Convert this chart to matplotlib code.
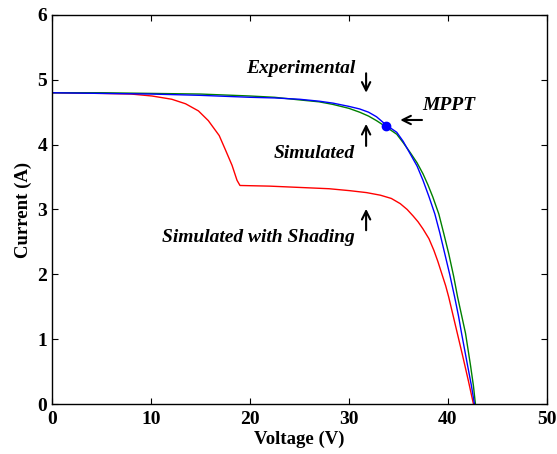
import numpy as np
import matplotlib
matplotlib.use('Agg')
import matplotlib.pyplot as plt

plt.rcParams['font.family'] = ['Liberation Serif', 'DejaVu Serif']
plt.rcParams['font.weight'] = 'bold'

# Experimental I-V curve (blue)
exp_v = [0, 5, 10, 15, 20, 22.5, 25, 27, 28.4, 30, 31.1, 32, 32.8, 33.8, 34.85,
         35.5, 36.2, 36.9, 37.5, 38.1, 38.7, 39.2, 39.7, 40.2, 40.7, 41.1,
         41.4, 42.0, 42.4, 42.7]
exp_i = [4.80, 4.79, 4.78, 4.76, 4.73, 4.72, 4.70, 4.67, 4.64, 4.59, 4.55,
         4.50, 4.43, 4.30, 4.19, 4.05, 3.86, 3.67, 3.45, 3.20, 2.93, 2.64,
         2.32, 2.00, 1.65, 1.35, 1.09, 0.60, 0.28, 0.0]

# Simulated I-V curve (green)
sim_v = [0, 5, 10, 15, 20, 22.5, 25, 27, 28.4, 30, 31.1, 32, 32.8, 33.8, 34.85,
         35.5, 36.2, 36.9, 37.5, 38.0, 38.5, 39.1, 39.6, 40.1, 40.6, 41.0,
         41.4, 41.8, 42.3, 42.6, 42.8]
sim_i = [4.80, 4.80, 4.79, 4.78, 4.75, 4.73, 4.69, 4.66, 4.62, 4.56, 4.50,
         4.44, 4.37, 4.27, 4.16, 4.03, 3.88, 3.72, 3.55, 3.38, 3.19, 2.93,
         2.63, 2.32, 1.97, 1.65, 1.37, 1.09, 0.60, 0.28, 0.0]

# Simulated with shading (red)
shd_v = [0, 5, 8, 10.1, 12.1, 13.5, 14.8, 15.8, 16.9, 17.5, 18.2, 18.7, 19.0,
         22, 25, 28, 30.1, 31.8, 33.2, 34.3, 35.2, 35.9, 36.5, 37.0, 37.5,
         38.1, 38.6, 39.0, 39.4, 39.8, 40.1, 40.8, 41.5, 42.1, 42.6]
shd_i = [4.80, 4.79, 4.78, 4.75, 4.70, 4.63, 4.52, 4.37, 4.14, 3.93, 3.68,
         3.45, 3.37, 3.36, 3.34, 3.32, 3.29, 3.26, 3.22, 3.17, 3.09, 3.00,
         2.90, 2.81, 2.70, 2.55, 2.37, 2.20, 2.01, 1.82, 1.65, 1.20, 0.75,
         0.35, 0.0]

# maximum power point
mpp_v = 33.8
mpp_i = 4.29

fig = plt.figure(figsize=(5.57, 4.54), dpi=100)
ax = fig.add_axes([0.0934, 0.1101, 0.888, 0.857])

ax.plot(shd_v, shd_i, color='r', lw=1.0)
ax.plot(sim_v, sim_i, color='g', lw=1.0)
ax.plot(exp_v, exp_i, color='b', lw=1.0)
ax.plot(mpp_v, mpp_i, 'o', color='b', markersize=6)

ax.set_xlim(0, 50)
ax.set_ylim(0, 6)
ax.set_xticks(np.arange(0, 51, 10))
ax.set_yticks(np.arange(0, 7, 1))
ax.tick_params(direction='in', top=True, right=True, labelsize=14, length=4)
ax.tick_params(axis='x', pad=5)
ax.set_xlabel('Voltage (V)', fontsize=13.5, fontweight='bold', labelpad=2)
ax.set_ylabel('Current (A)', fontsize=13.5, fontweight='bold', labelpad=4)
for s in ax.spines.values():
    s.set_linewidth(1.0)

txt = dict(fontsize=14, fontweight='bold', style='italic', va='baseline')
arr = dict(arrowstyle='->, head_length=0.6, head_width=0.3', lw=1.5,
           color='k', shrinkA=0, shrinkB=0)

ax.text(30.64, 5.10, 'Experimental', ha='right', **txt)
ax.annotate('', xy=(31.75, 4.80), xytext=(31.75, 5.10), arrowprops=arr)

ax.text(30.64, 3.80, 'Simulated', ha='right', **txt)
ax.annotate('', xy=(31.75, 4.32), xytext=(31.75, 3.98), arrowprops=arr)

ax.text(37.4, 4.54, 'MPPT', ha='left', **txt)
ax.annotate('', xy=(35.2, 4.38), xytext=(37.4, 4.38), arrowprops=arr)

ax.text(30.64, 2.50, 'Simulated with Shading', ha='right', **txt)
ax.annotate('', xy=(31.75, 3.01), xytext=(31.75, 2.68), arrowprops=arr)

fig.savefig('out.png', dpi=100)
